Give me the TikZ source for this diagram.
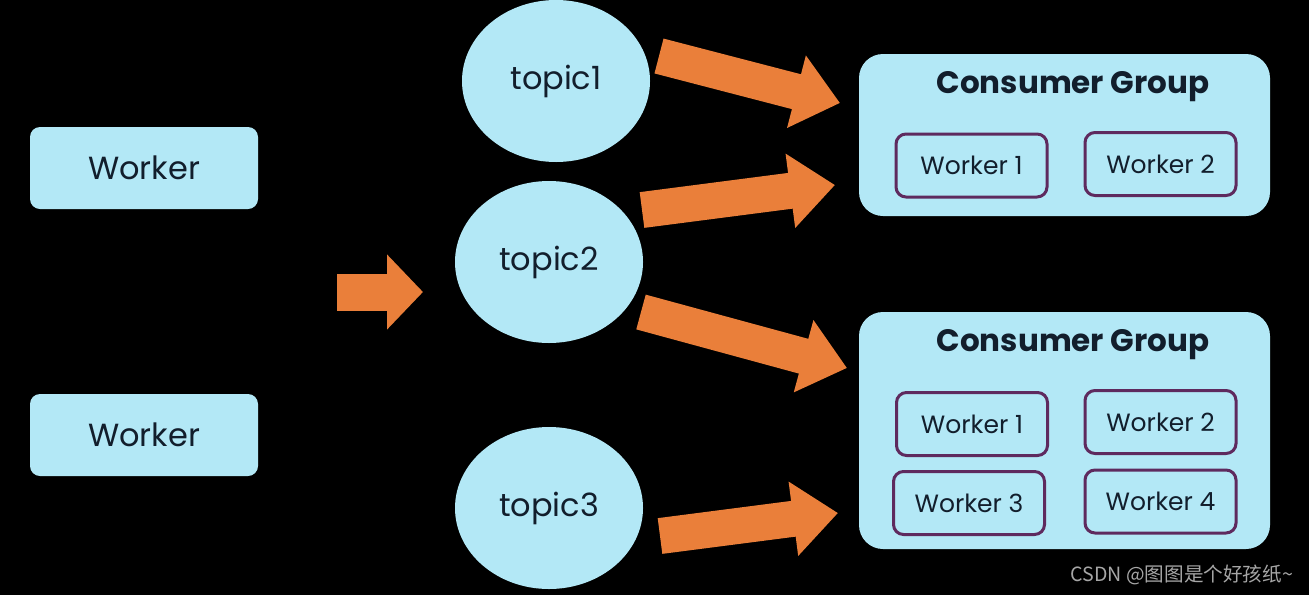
\documentclass[tikz,border=0pt]{standalone}
\usepackage{fontspec}
\setmainfont{Poppins}
\newfontfamily\cjk{Noto Sans CJK SC}
\usetikzlibrary{arrows.meta,positioning,shapes.geometric}
\definecolor{paleblue}{HTML}{B3E8F6}
\definecolor{flowor}{HTML}{EA7F3A}
\definecolor{plum}{HTML}{5E2A5E}
\definecolor{ink}{HTML}{121E2C}
\begin{document}
\begin{tikzpicture}[x=0.5pt, y=-0.5pt,
      elem/.style={rectangle, rounded corners=5pt, fill=paleblue, text=ink},
      worker/.style={elem, minimum width=114pt, minimum height=41pt,
                     font=\fontsize{16}{19}\selectfont},
      topic/.style={ellipse, fill=paleblue, text=ink, inner sep=0pt,
                    minimum width=94pt, minimum height=81pt,
                    font=\fontsize{16}{19}\selectfont},
      group/.style={elem, rounded corners=12pt, minimum width=205.5pt},
      title/.style={text=ink, font=\fontsize{15.5}{18}\selectfont\bfseries},
      member/.style={elem, draw=plum, line width=1.5pt,
                     minimum width=75.5pt, minimum height=31.5pt,
                     font=\fontsize{12.5}{15}\selectfont},
      flow/.style={flowor, line width=18pt,
                   -{Triangle[length=22.5pt, width=36pt]}},
      feed/.style={flowor, line width=18.5pt,
                   -{Triangle[length=18pt, width=36.5pt]}}
    ]
      \fill[black] (0,0) rectangle (1309,595);
      \useasboundingbox (0,0) rectangle (1309,595);

      \node[worker] (worker_a) at (144,168) {Worker};
      \node[worker] (worker_b) at (144,435) {Worker};

      \node[topic] (topic1) at (556,81) {topic1};
      \node[topic] (topic2) at (549,262) {topic2};
      \node[topic] (topic3) at (549,508) {topic3};

      \node[group, minimum height=81pt] (group1) at (1064.5,135) {};
      \node[title] (group1_title) at (1073,87) {Consumer Group};
      \node[member] (g1_worker1) at (971.5,165.5) {Worker 1};
      \node[member] (g1_worker2) at (1160.5,164) {Worker 2};

      \node[group, minimum height=118.5pt] (group2) at (1064.5,430.5) {};
      \node[title] (group2_title) at (1073,345) {Consumer Group};
      \node[member] (g2_worker1) at (972,424) {Worker 1};
      \node[member] (g2_worker2) at (1160.5,422) {Worker 2};
      \node[member, below=6.5pt of g2_worker1.south west, anchor=north west,
            xshift=-1.5pt] (g2_worker3) {Worker 3};
      \node[member] (g2_worker4) at (1160.5,501.5) {Worker 4};

      \coordinate (feed_start) at (337,292);
      \coordinate (feed_end) at (423,292);
      \coordinate (t1_out) at (659,56);
      \coordinate (g1_in_a) at (840,103);
      \coordinate (t2_out_a) at (642,210);
      \coordinate (g1_in_b) at (835,185);
      \coordinate (t2_out_b) at (641,312);
      \coordinate (g2_in_a) at (847,368);
      \coordinate (t3_out) at (660,536);
      \coordinate (g2_in_b) at (838,513);

      \draw[feed] (feed_start) -- (feed_end);
      \draw[flow] (t1_out) -- (g1_in_a);
      \draw[flow] (t2_out_a) -- (g1_in_b);
      \draw[flow] (t2_out_b) -- (g2_in_a);
      \draw[flow] (t3_out) -- (g2_in_b);

      \node[anchor=east, text=gray!70, font=\cjk\fontsize{9.8}{12}\selectfont]
        (mark) at (1300,575) {CSDN @图图是个好孩纸\textasciitilde};
    \end{tikzpicture}
\end{document}
